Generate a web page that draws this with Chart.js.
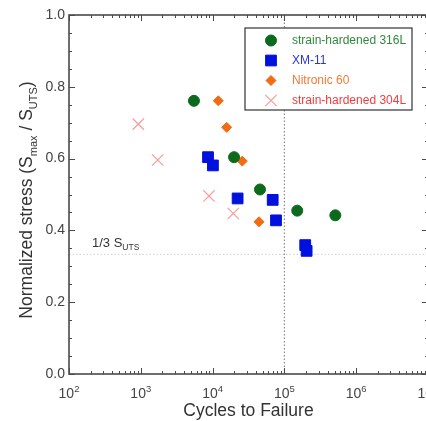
<!DOCTYPE html>
<html>
<head>
<meta charset="utf-8">
<script src="https://cdn.jsdelivr.net/npm/chart.js@4.4.1/dist/chart.umd.min.js"></script>
<style>
  html, body { margin: 0; padding: 0; background: #fff; overflow: hidden; }
  #wrap { width: 426px; height: 421px; overflow: hidden; }
</style>
</head>
<body>
<div id="wrap"><canvas id="fatigueChart" width="440" height="421"></canvas></div>
<script>
// data (cycles to failure, normalized stress)
var cycles316 = [5500, 19900, 45700, 151000, 512000];
var stress316 = [0.761, 0.604, 0.514, 0.455, 0.442];

var cyclesXM11 = [8630, 10100, 22300, 68700, 76400, 195000, 204000];
var stressXM11 = [0.604, 0.581, 0.489, 0.485, 0.428, 0.359, 0.343];

var cyclesN60 = [12000, 15700, 25900, 44300];
var stressN60 = [0.761, 0.687, 0.593, 0.424];

var cycles304 = [923, 1720, 8910, 19400];
var stress304 = [0.696, 0.596, 0.496, 0.447];

var runoutCycles = 1e5;
var thirdUTS = 1 / 3;
var xTickExponents = [2, 3, 4, 5, 6, 7];
var seriesNames = ['strain-hardened 316L', 'XM-11', 'Nitronic 60', 'strain-hardened 304L'];

const FONT = '"Liberation Sans", Arial, Helvetica, sans-serif';

const toPoints = (xs, ys) => xs.map((v, i) => ({ x: v, y: ys[i] }));

const series = [
    { pts: toPoints(cycles316, stress316), style: 'circle', r: 5.5, fill: '#0b6a1c', stroke: '#0b6a1c', text: '#2e8a3a', bw: 1 },
    { pts: toPoints(cyclesXM11, stressXM11), style: 'rect', r: 7.6, fill: '#0010dd', stroke: '#0010dd', text: '#2a35e0', bw: 1 },
    { pts: toPoints(cyclesN60, stressN60), style: 'rectRot', r: 5, fill: '#f26a12', stroke: '#f26a12', text: '#f27a33', bw: 1 },
    { pts: toPoints(cycles304, stress304), style: 'crossRot', r: 8, fill: '#ff9a9a', stroke: '#ff9a9a', text: '#f23c3c', bw: 1.2 }
];

const datasets = series.map((s, i) => ({
    label: seriesNames[i],
    data: s.pts,
    showLine: false,
    pointStyle: s.style,
    pointRadius: s.r,
    pointHoverRadius: s.r,
    pointBackgroundColor: s.fill,
    pointBorderColor: s.stroke,
    pointBorderWidth: s.bw
}));

// reference lines
datasets.push({
    label: 'runout',
    data: [{ x: runoutCycles, y: 0 }, { x: runoutCycles, y: 1 }],
    showLine: true,
    pointRadius: 0,
    borderColor: '#8a8a8a',
    borderWidth: 1.2,
    borderDash: [1.5, 2]
});
datasets.push({
    label: 'third',
    data: [{ x: 100, y: thirdUTS }, { x: 1e7, y: thirdUTS }],
    showLine: true,
    pointRadius: 0,
    borderColor: '#cfcfcf',
    borderWidth: 1,
    borderDash: [1.5, 2]
});

// text with sub/superscripts, drawn piece by piece
const drawPieces = (ctx, pieces, cx, base, color) => {
    let total = 0;
    pieces.forEach(p => { ctx.font = p[1] + 'px ' + FONT; total += ctx.measureText(p[0]).width; });
    let xs = cx - total / 2;
    ctx.fillStyle = color;
    ctx.textAlign = 'left';
    ctx.textBaseline = 'alphabetic';
    pieces.forEach(p => {
        ctx.font = p[1] + 'px ' + FONT;
        ctx.fillText(p[0], xs, base + p[2]);
        xs += ctx.measureText(p[0]).width;
    });
};

const frame = {
    id: 'frame',
    afterDraw(chart) {
        const ctx = chart.ctx;
        const a = chart.chartArea;
        const x = chart.scales.x, y = chart.scales.y;
        ctx.save();

        // box
        ctx.strokeStyle = '#4a4a4a';
        ctx.lineWidth = 1.6;
        ctx.strokeRect(a.left, a.top, a.right - a.left, a.bottom - a.top);

        // inward ticks
        ctx.lineWidth = 1;
        ctx.beginPath();
        xTickExponents.forEach(e => {
            for (let m = 1; m < 10; m++) {
                const v = m * Math.pow(10, e);
                if (v > 1e7) break;
                const px = Math.round(x.getPixelForValue(v)) + 0.5;
                const len = m === 1 ? 6 : 3;
                ctx.moveTo(px, a.bottom); ctx.lineTo(px, a.bottom - len);
                ctx.moveTo(px, a.top); ctx.lineTo(px, a.top + len);
            }
        });
        for (let k = 0; k <= 20; k++) {
            const v = k * 0.05;
            const py = Math.round(y.getPixelForValue(v)) + 0.5;
            const len = k % 4 === 0 ? 6 : 3;
            ctx.moveTo(a.left, py); ctx.lineTo(a.left + len, py);
            ctx.moveTo(a.right, py); ctx.lineTo(a.right - len, py);
        }
        ctx.stroke();

        // x tick labels 10^n
        xTickExponents.forEach(e => {
            const px = x.getPixelForValue(Math.pow(10, e));
            drawPieces(ctx, [['10', 14, 0], [String(e), 9.5, -6.5]], px, 398, '#444');
        });

        // axis titles
        drawPieces(ctx, [['Cycles to Failure', 17.5, 0]], (a.left + a.right) / 2, 416, '#333');
        ctx.save();
        ctx.translate(32, 200);
        ctx.rotate(-Math.PI / 2);
        drawPieces(ctx, [['Normalized stress (S', 17.5, 0], ['max', 11, 5], [' / S', 17.5, 0], ['UTS', 11, 5], [')', 17.5, 0]], 0, 0, '#333');
        ctx.restore();

        // 1/3 S_UTS label
        const ly = y.getPixelForValue(thirdUTS) - 7;
        ctx.fillStyle = '#333';
        ctx.font = '13px ' + FONT;
        ctx.textAlign = 'left';
        ctx.fillText('1/3 S', 92, ly);
        const w = ctx.measureText('1/3 S').width;
        ctx.font = '8.5px ' + FONT;
        ctx.fillText('UTS', 92 + w, ly + 3);

        // legend
        const lx = 245, ltop = 28, lw = 167, lh = 82;
        ctx.fillStyle = '#fff';
        ctx.fillRect(lx, ltop, lw, lh);
        ctx.strokeStyle = '#333';
        ctx.lineWidth = 1.2;
        ctx.strokeRect(lx, ltop, lw, lh);
        series.forEach((s, i) => {
            const ry = ltop + 12.5 + i * 20;
            ctx.fillStyle = s.fill;
            ctx.strokeStyle = s.stroke;
            ctx.lineWidth = s.bw;
            Chart.helpers.drawPoint(ctx, { pointStyle: s.style, radius: s.r, rotation: 0, borderWidth: s.bw }, lx + 26, ry);
            ctx.fillStyle = s.text;
            ctx.font = '12px ' + FONT;
            ctx.textBaseline = 'middle';
            ctx.fillText(seriesNames[i], lx + 47, ry + 0.5);
        });
        ctx.restore();
    }
};

var ctx = document.getElementById('fatigueChart').getContext('2d');

var chart = new Chart(ctx, {
    type: 'scatter',
    data: { datasets: datasets },
    options: {
        responsive: false,
        animation: false,
        devicePixelRatio: 1,
        layout: { padding: { top: 15, right: 12, left: 0, bottom: 0 } },
        plugins: { legend: { display: false }, tooltip: { enabled: false } },
        scales: {
            x: {
                type: 'logarithmic',
                min: 100,
                max: 1e7,
                grid: { display: false, drawTicks: false },
                border: { display: false },
                ticks: { display: false },
                afterFit: (s) => { s.height = 47; }
            },
            y: {
                min: 0,
                max: 1,
                grid: { display: false, drawTicks: false },
                border: { display: false },
                ticks: {
                    stepSize: 0.2,
                    padding: 4,
                    color: '#444',
                    font: { family: FONT, size: 14 },
                    callback: (v) => Number(v).toFixed(1)
                },
                afterFit: (s) => { s.width = 69; }
            }
        }
    },
    plugins: [frame]
});
</script>
</body>
</html>
